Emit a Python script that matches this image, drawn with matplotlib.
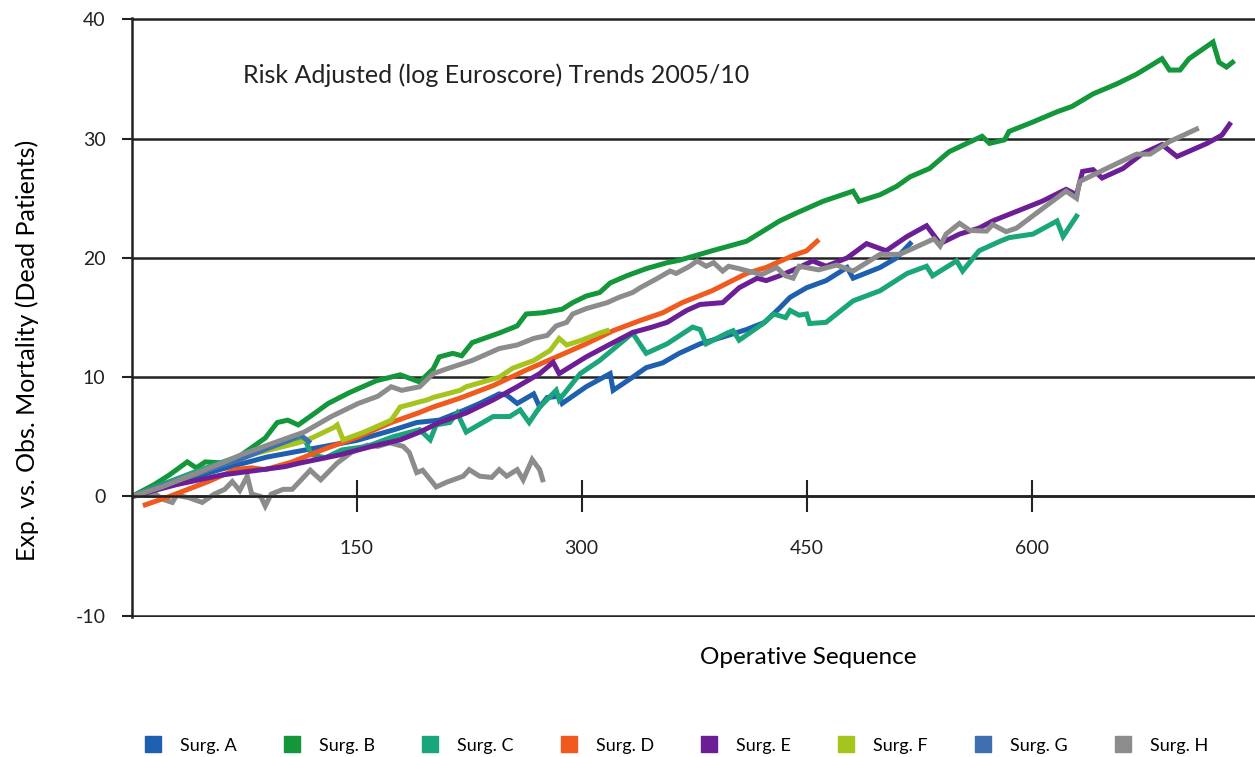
import matplotlib
matplotlib.use("Agg")
import matplotlib.pyplot as plt
from matplotlib.lines import Line2D

plt.rcParams['font.family'] = ['Lato', 'DejaVu Sans']
plt.rcParams['axes.unicode_minus'] = False

# surgeon curves: operative sequence vs cumulative (expected - observed) deaths
a_x = [0, 30, 60, 90, 120, 150, 175, 190, 205, 221, 232, 245, 250, 257, 268, 272, 277, 285, 287, 303,
       319, 321, 334, 343, 354, 365, 379, 395, 410, 422, 432, 439, 450, 463, 477, 481, 499, 510, 519]
a_y = [0, 1.2, 2.3, 3.3, 4.0, 4.7, 5.6, 6.2, 6.4, 7.2, 7.8, 8.6, 8.5, 7.8, 8.6, 7.5, 8.3, 8.4, 7.8, 9.2,
       10.3, 8.9, 10.0, 10.8, 11.2, 12.0, 12.8, 13.4, 14.0, 14.6, 15.8, 16.7, 17.5, 18.1, 19.2, 18.3, 19.2, 20.0, 21.2]

b_x = [0, 15, 25, 37, 43, 49, 62, 71, 89, 97, 104, 111, 120, 131, 145, 163, 179, 192, 201, 205, 214, 220,
       227, 245, 257, 263, 274, 287, 294, 303, 312, 319, 330, 343, 357, 365, 387, 410, 432, 443, 461, 481,
       485, 499, 510, 519, 532, 545, 567, 572, 582, 585, 601, 617, 627, 641, 657, 670, 687, 692, 699, 705,
       721, 725, 730, 734]
b_y = [0, 1.0, 1.8, 2.9, 2.4, 2.9, 2.8, 3.3, 4.9, 6.2, 6.4, 6.0, 6.8, 7.8, 8.7, 9.7, 10.2, 9.6, 10.7, 11.7, 12.0, 11.8,
       12.9, 13.7, 14.3, 15.3, 15.4, 15.7, 16.25, 16.8, 17.1, 17.9, 18.5, 19.1, 19.6, 19.8, 20.6, 21.4, 23.1, 23.75, 24.75, 25.6,
       24.75, 25.3, 26.0, 26.8, 27.5, 28.9, 30.2, 29.6, 29.9, 30.6, 31.4, 32.25, 32.7, 33.75, 34.6, 35.4, 36.7, 35.75, 35.75, 36.7,
       38.1, 36.4, 36.0, 36.4]

c_x = [0, 20, 45, 70, 90, 111, 116, 120, 129, 140, 157, 174, 192, 199, 203, 212, 217, 223, 241, 252, 259,
       265, 272, 283, 285, 299, 312, 334, 343, 357, 374, 379, 383, 397, 401, 405, 421, 428, 436, 439, 445,
       450, 452, 463, 481, 499, 517, 530, 534, 550, 554, 565, 579, 585, 601, 617, 621, 630]
c_y = [0, 1.0, 2.2, 3.3, 4.1, 4.75, 4.6, 3.5, 3.25, 3.9, 4.2, 5.0, 5.6, 4.75, 6.0, 6.2, 7.0, 5.4, 6.7, 6.7, 7.25,
       6.2, 7.5, 8.9, 8.1, 10.3, 11.4, 13.7, 12.0, 12.8, 14.2, 14.0, 12.8, 13.7, 13.9, 13.1, 14.5, 15.3, 15.0, 15.6, 15.2,
       15.3, 14.5, 14.6, 16.4, 17.25, 18.7, 19.3, 18.5, 19.75, 18.9, 20.6, 21.4, 21.7, 22.0, 23.1, 21.8, 23.5]

d_x = [9, 25, 51, 69, 80, 89, 107, 129, 151, 173, 191, 201, 219, 241, 263, 285, 303, 321, 339, 354,
       367, 387, 410, 423, 441, 450, 457]
d_y = [-0.7, 0.0, 1.25, 2.25, 2.4, 2.25, 2.9, 4.0, 5.0, 6.2, 7.0, 7.5, 8.25, 9.3, 10.6, 11.8, 12.8, 13.9, 14.75, 15.4,
       16.25, 17.25, 18.7, 19.2, 20.2, 20.6, 21.4]

e_x = [0, 30, 60, 90, 102, 112, 139, 160, 174, 179, 192, 205, 223, 241, 257, 272, 281, 285, 303, 321,
       334, 347, 357, 370, 379, 394, 405, 417, 423, 432, 445, 454, 463, 477, 490, 503, 517, 530, 539, 552,
       565, 574, 590, 607, 623, 630, 634, 641, 647, 661, 674, 687, 697, 717, 727, 732]
e_y = [0, 1.0, 1.8, 2.3, 2.5, 2.8, 3.5, 4.2, 4.6, 4.75, 5.4, 6.2, 7.0, 8.1, 9.2, 10.3, 11.25, 10.3, 11.7, 12.9,
       13.75, 14.2, 14.6, 15.6, 16.1, 16.25, 17.5, 18.3, 18.1, 18.5, 19.2, 19.75, 19.3, 20.0, 21.2, 20.6, 21.8, 22.7, 21.2, 22.0,
       22.5, 23.1, 23.9, 24.75, 25.75, 25.3, 27.25, 27.4, 26.7, 27.5, 28.75, 29.5, 28.5, 29.6, 30.3, 31.2]

f_x = [0, 25, 51, 73, 95, 111, 120, 135, 137, 141, 155, 173, 179, 197, 201, 219, 223, 245, 254, 268,
       279, 285, 290, 300, 312, 317]
f_y = [0, 1.1, 2.25, 3.3, 4.0, 4.5, 4.9, 5.8, 6.0, 4.75, 5.4, 6.4, 7.5, 8.1, 8.3, 8.9, 9.2, 10.0, 10.75, 11.4,
       12.25, 13.25, 12.7, 13.1, 13.7, 13.9]

g_x = [0, 20, 45, 70, 90, 105, 112, 118]
g_y = [0, 0.9, 2.0, 3.0, 4.0, 4.7, 5.2, 4.6]

h_x = [0, 20, 40, 62, 73, 97, 115, 133, 151, 164, 173, 180, 192, 201, 210, 227, 245, 257, 268, 277,
       283, 290, 294, 303, 317, 325, 334, 339, 350, 359, 363, 372, 377, 383, 388, 394, 398, 405, 420, 430,
       436, 441, 445, 458, 470, 481, 499, 512, 521, 535, 539, 543, 552, 559, 570, 574, 583, 590, 608, 623,
       630, 632, 650, 670, 679, 692, 710]
h_y = [0, 0.8, 1.8, 2.9, 3.5, 4.6, 5.4, 6.7, 7.8, 8.4, 9.2, 8.9, 9.2, 10.3, 10.7, 11.4, 12.4, 12.7, 13.25, 13.5,
       14.3, 14.6, 15.3, 15.75, 16.25, 16.7, 17.1, 17.5, 18.25, 18.9, 18.7, 19.3, 19.75, 19.3, 19.6, 18.9, 19.3, 19.1, 18.6, 19.2,
       18.5, 18.3, 19.3, 19.0, 19.4, 18.9, 20.3, 20.3, 20.8, 21.6, 21.0, 22.0, 22.9, 22.3, 22.25, 22.8, 22.2, 22.5, 24.2, 25.6,
       25.0, 26.4, 27.5, 28.7, 28.7, 29.75, 30.8]

# second (short) grey curve
h2_x = [0, 15, 20, 27, 30, 38, 47, 55, 62, 67, 72, 77, 80, 86, 89, 93, 101, 107, 119, 126,
        137, 147, 157, 164, 172, 181, 185, 190, 194, 203, 210, 221, 225, 232, 240, 245, 250, 257, 261, 267,
        272, 274]
h2_y = [0, 0.3, -0.2, -0.5, 0.1, -0.1, -0.5, 0.2, 0.6, 1.25, 0.5, 1.7, 0.2, 0.0, -0.8, 0.2, 0.6, 0.6, 2.2, 1.4,
        2.8, 3.75, 4.3, 4.2, 4.5, 4.2, 3.7, 2.0, 2.2, 0.8, 1.2, 1.7, 2.25, 1.7, 1.6, 2.25, 1.7, 2.25, 1.4, 3.1,
        2.25, 1.4]

labels = ['Surg. A', 'Surg. B', 'Surg. C', 'Surg. D', 'Surg. E', 'Surg. F', 'Surg. G', 'Surg. H']
colors = ['#1f5fb0', '#14963a', '#1aa57a', '#f05a1e', '#6b1e96', '#a5c41e', '#3f6fb0', '#8c8c8c']
xs = [a_x, b_x, c_x, d_x, e_x, f_x, g_x, h_x]
ys = [a_y, b_y, c_y, d_y, e_y, f_y, g_y, h_y]

fig = plt.figure(figsize=(12.55, 7.57), dpi=100)
ax = fig.add_axes([0.105, 0.185, 0.895, 0.791])

ax.plot(h2_x, h2_y, color=colors[7], lw=3.6, solid_joinstyle='miter')
for x, y, c in zip(xs, ys, colors):
    ax.plot(x, y, color=c, lw=3.6, solid_joinstyle='miter')

ax.set_xlim(0, 749)
ax.set_ylim(-10.1, 40.1)
ax.set_yticks([-10, 0, 10, 20, 30, 40])
ax.set_xticks([150, 300, 450, 600])
ax.yaxis.grid(True, color='#222222', lw=1.8)
ax.set_axisbelow(True)

for s in ['top', 'right']:
    ax.spines[s].set_visible(False)
ax.spines['bottom'].set_position(('data', 0))
ax.spines['bottom'].set_linewidth(1.8)
ax.spines['bottom'].set_color('#222222')
ax.spines['left'].set_linewidth(1.8)
ax.spines['left'].set_color('#222222')

ax.tick_params(axis='x', direction='inout', length=23, width=1.5, pad=20, labelsize=14, colors='#222222')
ax.tick_params(axis='y', direction='out', length=7, width=1.5, pad=12, labelsize=14, colors='#222222')

ax.set_ylabel('Exp. vs. Obs. Mortality (Dead Patients)', fontsize=18)
ax.yaxis.set_label_coords(-0.083, 0.445)
ax.set_xlabel('Operative Sequence', fontsize=17.5)
ax.xaxis.set_label_coords(0.602, -0.067)
ax.xaxis.label.set_va('center')

ax.text(0.099, 0.905, 'Risk Adjusted (log Euroscore) Trends 2005/10', transform=ax.transAxes,
        fontsize=18, ha='left', va='center', color='#222222')

handles = [Line2D([], [], marker='s', ls='none', color=c, markersize=11) for c in colors]
fig.legend(handles, labels, loc='lower center', bbox_to_anchor=(0.535, -0.017), ncol=8, frameon=False,
           fontsize=13, handletextpad=0.5, columnspacing=2.05)

fig.savefig('out.png', dpi=100)
